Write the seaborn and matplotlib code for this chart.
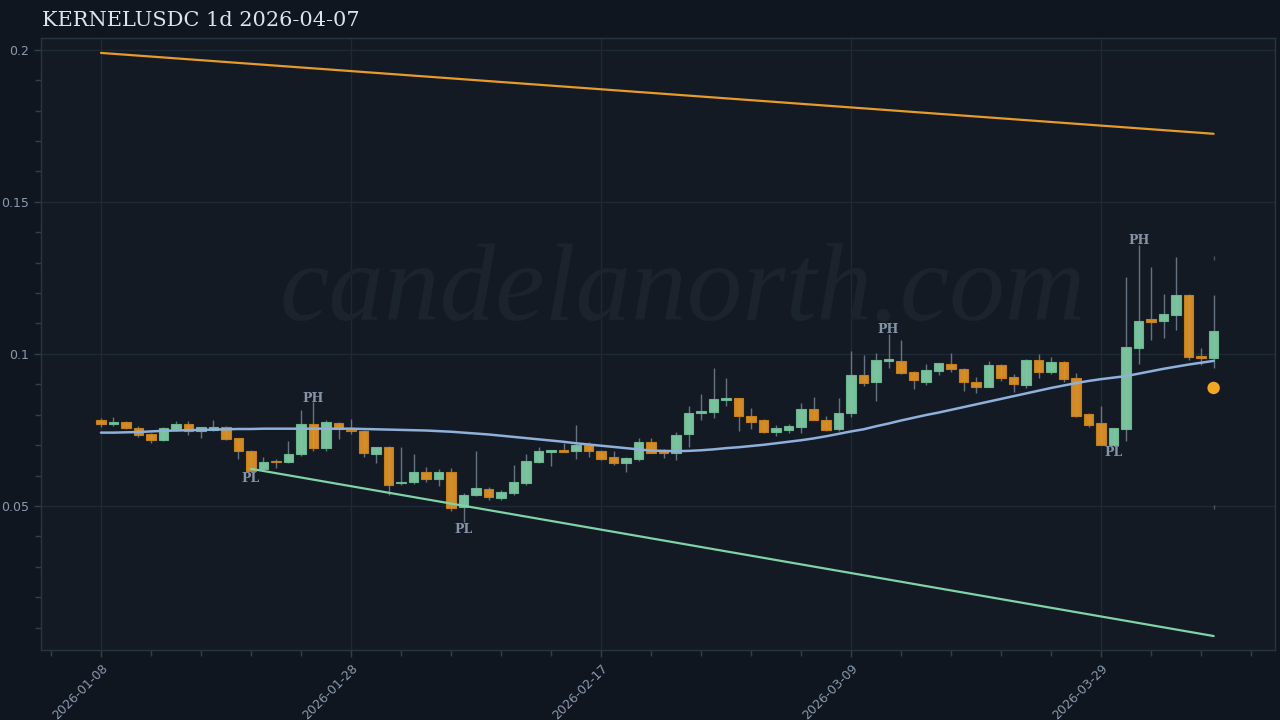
import numpy as np
import pandas as pd
import matplotlib
matplotlib.use("Agg")
import matplotlib.pyplot as plt
import matplotlib.dates as mdates
from matplotlib.ticker import FixedLocator, MultipleLocator, FuncFormatter
import seaborn as sns

# ---------------- data ----------------
start_date = "2026-01-08"
n_days = 90
opens = [0.0783, 0.0771, 0.0776, 0.0756, 0.0737, 0.0717, 0.0752, 0.0769, 0.0745, 0.0750,
         0.0759, 0.0723, 0.0681, 0.0620, 0.0649, 0.0643, 0.0671, 0.0770, 0.0691, 0.0773,
         0.0751, 0.0747, 0.0672, 0.0694, 0.0574, 0.0577, 0.0613, 0.0589, 0.0610, 0.0496,
         0.0536, 0.0555, 0.0526, 0.0542, 0.0574, 0.0644, 0.0678, 0.0684, 0.0679, 0.0701,
         0.0681, 0.0661, 0.0640, 0.0653, 0.0709, 0.0679, 0.0673, 0.0736, 0.0807, 0.0810,
         0.0848, 0.0854, 0.0797, 0.0781, 0.0743, 0.0750, 0.0760, 0.0818, 0.0783, 0.0752,
         0.0805, 0.0931, 0.0906, 0.0976, 0.0977, 0.0942, 0.0909, 0.0944, 0.0966, 0.0950,
         0.0909, 0.0892, 0.0964, 0.0923, 0.0898, 0.0980, 0.0939, 0.0973, 0.0920, 0.0803,
         0.0773, 0.0701, 0.0753, 0.1021, 0.1114, 0.1109, 0.1128, 0.1194, 0.0993, 0.0985]
highs = [0.0788, 0.0794, 0.0779, 0.0763, 0.0739, 0.0761, 0.0780, 0.0780, 0.0761, 0.0781,
         0.0763, 0.0725, 0.0683, 0.0660, 0.0655, 0.0714, 0.0816, 0.0841, 0.0783, 0.0777,
         0.0785, 0.0749, 0.0695, 0.0696, 0.0695, 0.0671, 0.0627, 0.0622, 0.0624, 0.0542,
         0.0679, 0.0562, 0.0553, 0.0635, 0.0671, 0.0693, 0.0684, 0.0706, 0.0766, 0.0709,
         0.0684, 0.0679, 0.0660, 0.0723, 0.0723, 0.0687, 0.0744, 0.0830, 0.0867, 0.0955,
         0.0920, 0.0856, 0.0821, 0.0785, 0.0766, 0.0770, 0.0838, 0.0859, 0.0796, 0.0854,
         0.1010, 0.0997, 0.1002, 0.1066, 0.1046, 0.0944, 0.0966, 0.0971, 0.1002, 0.0952,
         0.0925, 0.0975, 0.0966, 0.0934, 0.0983, 0.0999, 0.0991, 0.0975, 0.0937, 0.0805,
         0.0829, 0.0757, 0.1252, 0.1359, 0.1287, 0.1196, 0.1320, 0.1196, 0.1021, 0.1194]
lows = [0.0759, 0.0764, 0.0754, 0.0728, 0.0706, 0.0712, 0.0747, 0.0734, 0.0725, 0.0745,
        0.0718, 0.0653, 0.0616, 0.0616, 0.0626, 0.0640, 0.0665, 0.0679, 0.0679, 0.0720,
        0.0737, 0.0662, 0.0640, 0.0536, 0.0569, 0.0571, 0.0580, 0.0564, 0.0483, 0.0448,
        0.0531, 0.0520, 0.0520, 0.0536, 0.0569, 0.0640, 0.0632, 0.0676, 0.0653, 0.0662,
        0.0652, 0.0635, 0.0613, 0.0649, 0.0673, 0.0657, 0.0651, 0.0693, 0.0781, 0.0790,
        0.0830, 0.0747, 0.0753, 0.0741, 0.0730, 0.0739, 0.0739, 0.0781, 0.0747, 0.0748,
        0.0794, 0.0896, 0.0846, 0.0955, 0.0934, 0.0885, 0.0898, 0.0931, 0.0940, 0.0879,
        0.0870, 0.0890, 0.0912, 0.0876, 0.0887, 0.0920, 0.0934, 0.0909, 0.0792, 0.0761,
        0.0699, 0.0700, 0.0715, 0.0966, 0.1046, 0.1052, 0.1079, 0.0980, 0.0962, 0.0955]
closes = [0.0769, 0.0775, 0.0756, 0.0734, 0.0717, 0.0756, 0.0769, 0.0747, 0.0759, 0.0758,
          0.0720, 0.0679, 0.0616, 0.0646, 0.0643, 0.0671, 0.0769, 0.0692, 0.0775, 0.0752,
          0.0745, 0.0674, 0.0693, 0.0569, 0.0580, 0.0613, 0.0589, 0.0612, 0.0492, 0.0536,
          0.0558, 0.0528, 0.0545, 0.0580, 0.0648, 0.0680, 0.0684, 0.0677, 0.0701, 0.0679,
          0.0655, 0.0640, 0.0656, 0.0710, 0.0675, 0.0673, 0.0734, 0.0805, 0.0812, 0.0852,
          0.0854, 0.0797, 0.0777, 0.0743, 0.0755, 0.0762, 0.0818, 0.0783, 0.0750, 0.0807,
          0.0931, 0.0904, 0.0980, 0.0980, 0.0936, 0.0914, 0.0947, 0.0969, 0.0950, 0.0909,
          0.0892, 0.0964, 0.0922, 0.0900, 0.0980, 0.0940, 0.0973, 0.0919, 0.0797, 0.0767,
          0.0701, 0.0756, 0.1022, 0.1109, 0.1106, 0.1130, 0.1194, 0.0991, 0.0986, 0.1076]
ma_line = [0.0741, 0.0741, 0.0742, 0.0743, 0.0745, 0.0747, 0.0748, 0.0749, 0.0750, 0.0751,
           0.0752, 0.0753, 0.0753, 0.0754, 0.0754, 0.0754, 0.0754, 0.0754, 0.0754, 0.0754,
           0.0754, 0.0753, 0.0752, 0.0751, 0.0750, 0.0749, 0.0748, 0.0746, 0.0744, 0.0741,
           0.0738, 0.0735, 0.0731, 0.0727, 0.0723, 0.0719, 0.0715, 0.0711, 0.0706, 0.0702,
           0.0698, 0.0694, 0.0690, 0.0686, 0.0682, 0.0681, 0.0680, 0.0681, 0.0683, 0.0686,
           0.0690, 0.0693, 0.0697, 0.0701, 0.0706, 0.0711, 0.0716, 0.0722, 0.0729, 0.0737,
           0.0745, 0.0752, 0.0762, 0.0771, 0.0781, 0.0790, 0.0799, 0.0807, 0.0816, 0.0825,
           0.0834, 0.0843, 0.0852, 0.0861, 0.0870, 0.0879, 0.0888, 0.0896, 0.0904, 0.0911,
           0.0917, 0.0922, 0.0927, 0.0935, 0.0943, 0.0951, 0.0958, 0.0965, 0.0971, 0.0977]
upper_trend_idx = [0, 89]
upper_trend_val = [0.1990, 0.1724]
lower_trend_idx = [12, 89]
lower_trend_val = [0.0622, 0.0072]
pivot_idx = [12, 17, 29, 63, 81, 83]
pivot_kind = ["PL", "PH", "PL", "PH", "PL", "PH"]
last_dot_val = 0.0888
proj_marks = [0.1316, 0.0497]
major_tick_dates = ["2026-01-08", "2026-01-28", "2026-02-17", "2026-03-09", "2026-03-29"]
y_major = [0.05, 0.10, 0.15, 0.20]
title_text = "KERNELUSDC 1d 2026-04-07"
watermark = "candelanorth.com"

# ---------------- style ----------------
BG = "#10161f"
AX_BG = "#131a24"
GREEN = "#7fcaa3"
ORANGE = "#dc9127"
WICK = "#8190a2"
TICK_C = "#8a9aad"

sns.set_theme(style="dark")
plt.rcParams["font.family"] = ["DejaVu Sans"]

dates = pd.date_range(start_date, periods=n_days, freq="D")
xnum = mdates.date2num(dates)
df = pd.DataFrame({"date": xnum, "open": opens, "high": highs, "low": lows,
                   "close": closes, "ma": ma_line})

fig = plt.figure(figsize=(12.8, 7.2), dpi=100, facecolor=BG)
ax = fig.add_axes([0.032, 0.0972, 0.964, 0.850])
ax.set_facecolor(AX_BG)

for sp in ax.spines.values():
    sp.set_color("#263544")
    sp.set_linewidth(1.0)
ax.grid(True, which="major", color="#1d2a35", linewidth=0.9)
ax.set_axisbelow(True)

# wicks
up = df["close"] >= df["open"]
ax.vlines(df["date"], df["low"], df["high"], color=WICK, linewidth=1.0, alpha=0.75, zorder=2)
# bodies
body_w = 0.75
for mask, col, edge in [(up, GREEN, "#6dbb92"), (~up, ORANGE, "#c98219")]:
    sub = df[mask]
    bottom = np.minimum(sub["open"], sub["close"])
    height = np.maximum(np.abs(sub["close"] - sub["open"]), 0.0006)
    ax.bar(sub["date"], height, bottom=bottom, width=body_w, color=col,
           edgecolor=edge, linewidth=0.8, alpha=0.95, zorder=3)

# moving average & trendlines via seaborn
sns.lineplot(x=df["date"], y=df["ma"], ax=ax, color="#8fb0da", linewidth=1.8, zorder=4)
sns.lineplot(x=xnum[upper_trend_idx], y=upper_trend_val, ax=ax, color="#e69b2b",
             linewidth=1.6, zorder=4)
sns.lineplot(x=xnum[lower_trend_idx], y=lower_trend_val, ax=ax, color="#7fd3a6",
             linewidth=1.6, zorder=4)

# last-bar marker
sns.scatterplot(x=[xnum[-1]], y=[last_dot_val], ax=ax, color="#f5a623", s=80,
                edgecolor="none", zorder=5)
ax.scatter([xnum[-1]] * len(proj_marks), proj_marks, marker="|", s=12, color="#4a5564",
           linewidths=1, zorder=2)

# pivot labels
for idx, kind in zip(pivot_idx, pivot_kind):
    if kind == "PH":
        ax.annotate(kind, (xnum[idx], highs[idx]), xytext=(0, -1.7), textcoords="offset points",
                    ha="center", va="bottom", fontsize=9, fontweight="bold",
                    color="#8593a6", family=["DejaVu Serif"], zorder=6)
    else:
        ax.annotate(kind, (xnum[idx], lows[idx]), xytext=(0, -0.9), textcoords="offset points",
                    ha="center", va="top", fontsize=9, fontweight="bold",
                    color="#8593a6", family=["DejaVu Serif"], zorder=6)

# watermark
ax.text(0.52, 0.583, watermark, transform=ax.transAxes, ha="center", va="center",
        fontsize=80, style="italic", family=["Liberation Serif", "DejaVu Serif"],
        color="#1b232d", zorder=1)

# axes limits & ticks
x0 = xnum[0]
ax.set_xlim(x0 - 4.8, x0 + 93.9)
ax.set_ylim(0.0026, 0.2039)
ax.xaxis.set_major_locator(FixedLocator(mdates.date2num(pd.to_datetime(major_tick_dates))))
ax.xaxis.set_minor_locator(FixedLocator(x0 + np.arange(-4, 94, 4)))
ax.xaxis.set_major_formatter(mdates.DateFormatter("%Y-%m-%d"))
ax.yaxis.set_major_locator(FixedLocator(y_major))
ax.yaxis.set_minor_locator(MultipleLocator(0.01))
ax.yaxis.set_major_formatter(FuncFormatter(lambda v, p: f"{v:g}"))
ax.tick_params(axis="both", which="both", colors="#2f3f4f", labelcolor=TICK_C,
               labelsize=9, bottom=True, left=True)
ax.tick_params(axis="both", which="major", length=5, width=1)
ax.tick_params(axis="both", which="minor", length=4, width=1)
plt.setp(ax.get_xticklabels(), rotation=45, ha="right", rotation_mode="anchor")
ax.set_xlabel("")
ax.set_ylabel("")

fig.text(0.033, 0.971, title_text, ha="left", va="center", fontsize=15,
         family=["DejaVu Serif"], color="#dde3ea")

fig.savefig("out.png", dpi=100, facecolor=BG)
